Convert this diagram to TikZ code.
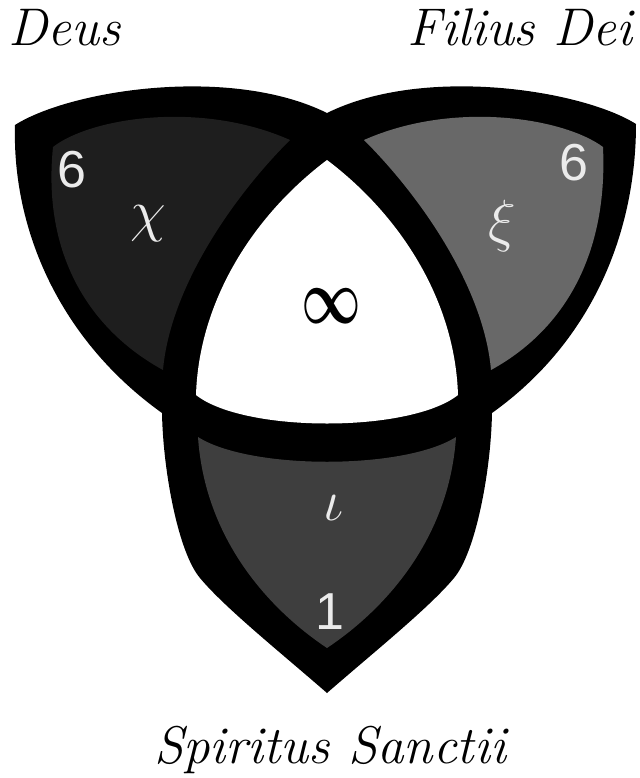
\RequirePackage{fix-cm}
\documentclass[tikz,border=0pt]{standalone}
\usepackage{fontspec}
\newfontfamily\sosans{Liberation Sans}
\definecolor{xamdam}{RGB}{30,30,30}
\definecolor{xamnhat}{RGB}{104,104,104}
\definecolor{xamvua}{RGB}{62,62,62}
\tikzset{
	chuso/.style={text=white!92!black, font=\sosans\fontsize{26}{26}\selectfont},
	chuhy/.style={text=white!92!black, font=\fontsize{29}{29}\selectfont},
	tieude/.style={inner sep=0pt, font=\itshape\fontsize{26.5}{30}\selectfont},
}
\begin{document}
\begin{tikzpicture}[x=0.5pt,y=-0.5pt]
	\useasboundingbox (0,0) rectangle (639,778);
	% Vẽ viền đen bên ngoài
	\fill[black] (15,125) .. controls (70,90) and (230,65) .. (327,113)
		.. controls (424,65) and (582,90) .. (636,124)
		.. controls (636,230) and (594,340) .. (492,413)
		.. controls (491,470) and (476,552) .. (454,578)
		.. controls (429,608) and (374,652) .. (327,693)
		.. controls (280,652) and (225,608) .. (200,578)
		.. controls (178,552) and (163,470) .. (162,413)
		.. controls (60,340) and (12,230) .. (15,125) -- cycle;
	
	% Vẽ ba cánh
	\fill[xamdam] (53,147) .. controls (90,118) and (200,100) .. (290,140)
		.. controls (230,200) and (170,290) .. (163,370)
		.. controls (90,330) and (42,255) .. (53,147) -- cycle;
	\fill[xamnhat] (603,147) .. controls (564,118) and (454,100) .. (364,140)
		.. controls (424,200) and (484,290) .. (491,370)
		.. controls (564,330) and (608,255) .. (603,147) -- cycle;
	\fill[xamvua] (198,437) .. controls (250,470) and (404,470) .. (456,437)
		.. controls (449,540) and (384,610) .. (327,648)
		.. controls (270,610) and (205,540) .. (198,437) -- cycle;
	
	% Vùng trắng ở giữa
	\fill[white] (327,160) .. controls (400,215) and (455,300) .. (458,395)
		.. controls (410,433) and (244,433) .. (196,395)
		.. controls (199,300) and (254,215) .. (327,160) -- cycle;
	
	% Ghi chú trong các cánh
	\node[chuso] (sautrai) at (72,170) {6};
	\node[chuhy] (chi) at (148,224) {$\chi$};
	\node[chuso] (sauphai) at (574,163) {6};
	\node[chuhy] (xi) at (502,226) {$\xi$};
	\node (vocung) at (331,306) {\scalebox{1}[1.5]{\fontsize{26}{26}\selectfont\boldmath$\infty$}};
	\node[chuhy] (iota) at (334,508) {$\iota$};
	\node[chuso] (mot) at (330,612) {1};
	
	% Tên ba ngôi
	\node[tieude, anchor=base west] (deus) at (8,45) {Deus};
	\node[tieude, anchor=base east] (filius) at (633,45) {Filius Dei};
	\node[tieude, anchor=base] (spiritus) at (330,763) {Spiritus Sanctii};
\end{tikzpicture}
\end{document}
